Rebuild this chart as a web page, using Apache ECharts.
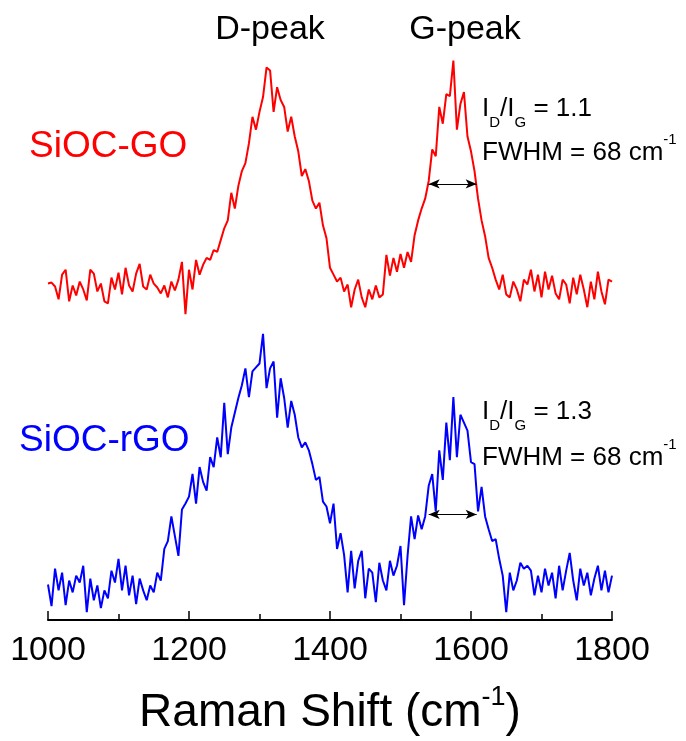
<!DOCTYPE html>
<html>
<head>
<meta charset="utf-8">
<script src="https://cdn.jsdelivr.net/npm/echarts@6/dist/echarts.min.js"></script>
<style>
  html, body { margin: 0; padding: 0; background: #fff; }
  #chart { width: 686px; height: 741px; }
</style>
</head>
<body>
<div id="chart"></div>
<script>
// Raman shift axis (cm^-1): spectra sampled every 5 cm^-1 from 1000 to 1800
const shiftStart = 1000;
const shiftStep = 5;

// Raw Raman intensity (a.u.) of SiOC-GO
const siocGO = [
  36, 37, 33, 20, 45, 50, 18, 34, 24, 38,
  30, 19, 50, 46, 28, 36, 18, 16, 42, 30,
  47, 25, 52, 34, 28, 46, 56, 33, 30, 45,
  36, 32, 26, 34, 22, 38, 29, 40, 58, 5,
  50, 30, 60, 45, 55, 62, 60, 70, 68, 80,
  92, 100, 128, 112, 135, 150, 158, 178, 205, 192,
  210, 225, 255, 252, 210, 235, 222, 215, 190, 205,
  185, 170, 145, 152, 140, 120, 112, 118, 95, 82,
  52, 45, 38, 42, 28, 35, 12, 30, 40, 22,
  12, 30, 20, 34, 22, 25, 65, 44, 62, 48,
  66, 52, 68, 58, 85, 100, 112, 122, 140, 172,
  165, 215, 198, 228, 226, 262, 192, 218, 230, 185,
  170, 150, 122, 100, 84, 62, 52, 40, 30, 45,
  25, 22, 38, 30, 18, 40, 35, 50, 28, 45,
  22, 48, 30, 44, 26, 20, 40, 35, 16, 42,
  25, 45, 30, 12, 38, 20, 48, 28, 15, 40,
  38
];

// Raw Raman intensity (a.u.) of SiOC-rGO
const siocRGO = [
  36, 14, 52, 30, 48, 15, 40, 28, 45, 38,
  55, 8, 42, 20, 35, 12, 30, 22, 50, 38,
  62, 30, 55, 25, 45, 16, 42, 30, 20, 35,
  28, 48, 40, 72, 80, 105, 85, 65, 112, 118,
  125, 148, 118, 155, 140, 131, 165, 155, 185, 165,
  220, 168, 195, 210, 225, 238, 255, 226, 252, 256,
  260, 290, 235, 255, 262, 205, 245, 225, 195, 222,
  208, 185, 175, 180, 172, 158, 142, 145, 120, 115,
  98, 118, 72, 88, 66, 28, 70, 32, 60, 70,
  22, 52, 48, 18, 58, 40, 30, 60, 45, 55,
  75, 15, 65, 105, 82, 106, 92, 105, 136, 148,
  110, 172, 142, 200, 162, 226, 165, 208, 200, 192,
  160, 158, 110, 135, 105, 92, 80, 82, 62, 45,
  8, 48, 30, 40, 58, 52, 55, 50, 25, 45,
  28, 52, 35, 48, 22, 55, 30, 50, 68, 40,
  20, 52, 35, 48, 25, 42, 55, 30, 50, 28,
  45
];

// Vertical offset used to stack the SiOC-GO spectrum above SiOC-rGO
const stackOffsetGO = 305;

// G-band full width at half maximum: [start, end] in cm^-1 and the half-height level (raw a.u.)
const fwhmGO = { from: 1540, to: 1608, level: 137 };
const fwhmRGO = { from: 1540, to: 1608, level: 107 };

// Axis ticks
const xMin = 1000, xMax = 1800, xInterval = 200;

const toPairs = (vals, offset) =>
  vals.map((v, i) => [shiftStart + i * shiftStep, v + offset]);

const FONT = '"Liberation Sans", Arial, Helvetica, sans-serif';

function fwhmLine(f, offset) {
  return {
    silent: true,
    symbol: ['arrow', 'arrow'],
    symbolSize: [7, 11],
    label: { show: false },
    lineStyle: { color: '#000', width: 1, type: 'solid' },
    data: [[
      { coord: [f.from, f.level + offset] },
      { coord: [f.to, f.level + offset] }
    ]]
  };
}

// I_D/I_G with subscripts
const ratioRich = {
  m: { fontFamily: FONT, fontSize: 26, color: '#000', lineHeight: 26, verticalAlign: 'top' },
  s: { fontFamily: FONT, fontSize: 15, color: '#000', lineHeight: 34, verticalAlign: 'bottom' }
};
// cm^-1 with superscript
const fwhmRich = {
  m: { fontFamily: FONT, fontSize: 26, color: '#000', lineHeight: 34, verticalAlign: 'bottom' },
  p: { fontFamily: FONT, fontSize: 15, color: '#000', lineHeight: 18, verticalAlign: 'top' }
};

function textEl(x, y, text, extra) {
  return {
    type: 'text', x: x, y: y, silent: true,
    style: Object.assign({ text: text, fontFamily: FONT, fill: '#000' }, extra)
  };
}

const chart = echarts.init(document.getElementById('chart'), null, { renderer: 'canvas' });

chart.setOption({
  backgroundColor: '#fff',
  animation: false,
  grid: { left: 48, right: 74, top: 28, bottom: 113, containLabel: false },
  xAxis: {
    type: 'value',
    min: xMin, max: xMax, interval: xInterval,
    name: '{m|Raman Shift (cm}{p|-1}{m|)}',
    nameLocation: 'middle',
    nameGap: 64,
    nameTextStyle: {
      rich: {
        m: { fontFamily: FONT, fontSize: 46, color: '#000', lineHeight: 52, verticalAlign: 'bottom' },
        p: { fontFamily: FONT, fontSize: 27, color: '#000', lineHeight: 30, verticalAlign: 'top' }
      }
    },
    axisLine: { show: true, lineStyle: { color: '#000', width: 2 } },
    axisTick: { show: true, inside: true, length: 9, lineStyle: { color: '#000', width: 1.5 } },
    minorTick: { show: true, splitNumber: 2, length: 6, lineStyle: { color: '#000', width: 1.5 } },
    axisLabel: {
      fontFamily: FONT, fontSize: 34, color: '#000', margin: 14,
      formatter: (v) => String(v)
    },
    splitLine: { show: false }
  },
  yAxis: {
    type: 'value', min: 0, max: 600, show: false
  },
  series: [
    {
      name: 'SiOC-GO',
      type: 'line',
      data: toPairs(siocGO, stackOffsetGO),
      showSymbol: false,
      lineStyle: { color: '#ff0000', width: 2 },
      itemStyle: { color: '#ff0000' },
      markLine: fwhmLine(fwhmGO, stackOffsetGO)
    },
    {
      name: 'SiOC-rGO',
      type: 'line',
      data: toPairs(siocRGO, 0),
      showSymbol: false,
      lineStyle: { color: '#0000ff', width: 2 },
      itemStyle: { color: '#0000ff' },
      markLine: fwhmLine(fwhmRGO, 0)
    }
  ],
  graphic: [
    textEl(270, 30, 'D-peak', { fontSize: 34, align: 'center', verticalAlign: 'middle' }),
    textEl(465, 30, 'G-peak', { fontSize: 34, align: 'center', verticalAlign: 'middle' }),
    textEl(29, 147, 'SiOC-GO', { fontSize: 37, fill: '#ff0000', align: 'left', verticalAlign: 'middle' }),
    textEl(19, 441, 'SiOC-rGO', { fontSize: 37, fill: '#0000ff', align: 'left', verticalAlign: 'middle' }),
    textEl(482, 96, '{m|I}{s|D}{m|/I}{s|G}{m| = 1.1}', { rich: ratioRich, verticalAlign: 'top' }),
    textEl(482, 132, '{m|FWHM = 68 cm}{p|-1}', { rich: fwhmRich, verticalAlign: 'top' }),
    textEl(482, 399, '{m|I}{s|D}{m|/I}{s|G}{m| = 1.3}', { rich: ratioRich, verticalAlign: 'top' }),
    textEl(482, 437, '{m|FWHM = 68 cm}{p|-1}', { rich: fwhmRich, verticalAlign: 'top' })
  ]
});
</script>
</body>
</html>
